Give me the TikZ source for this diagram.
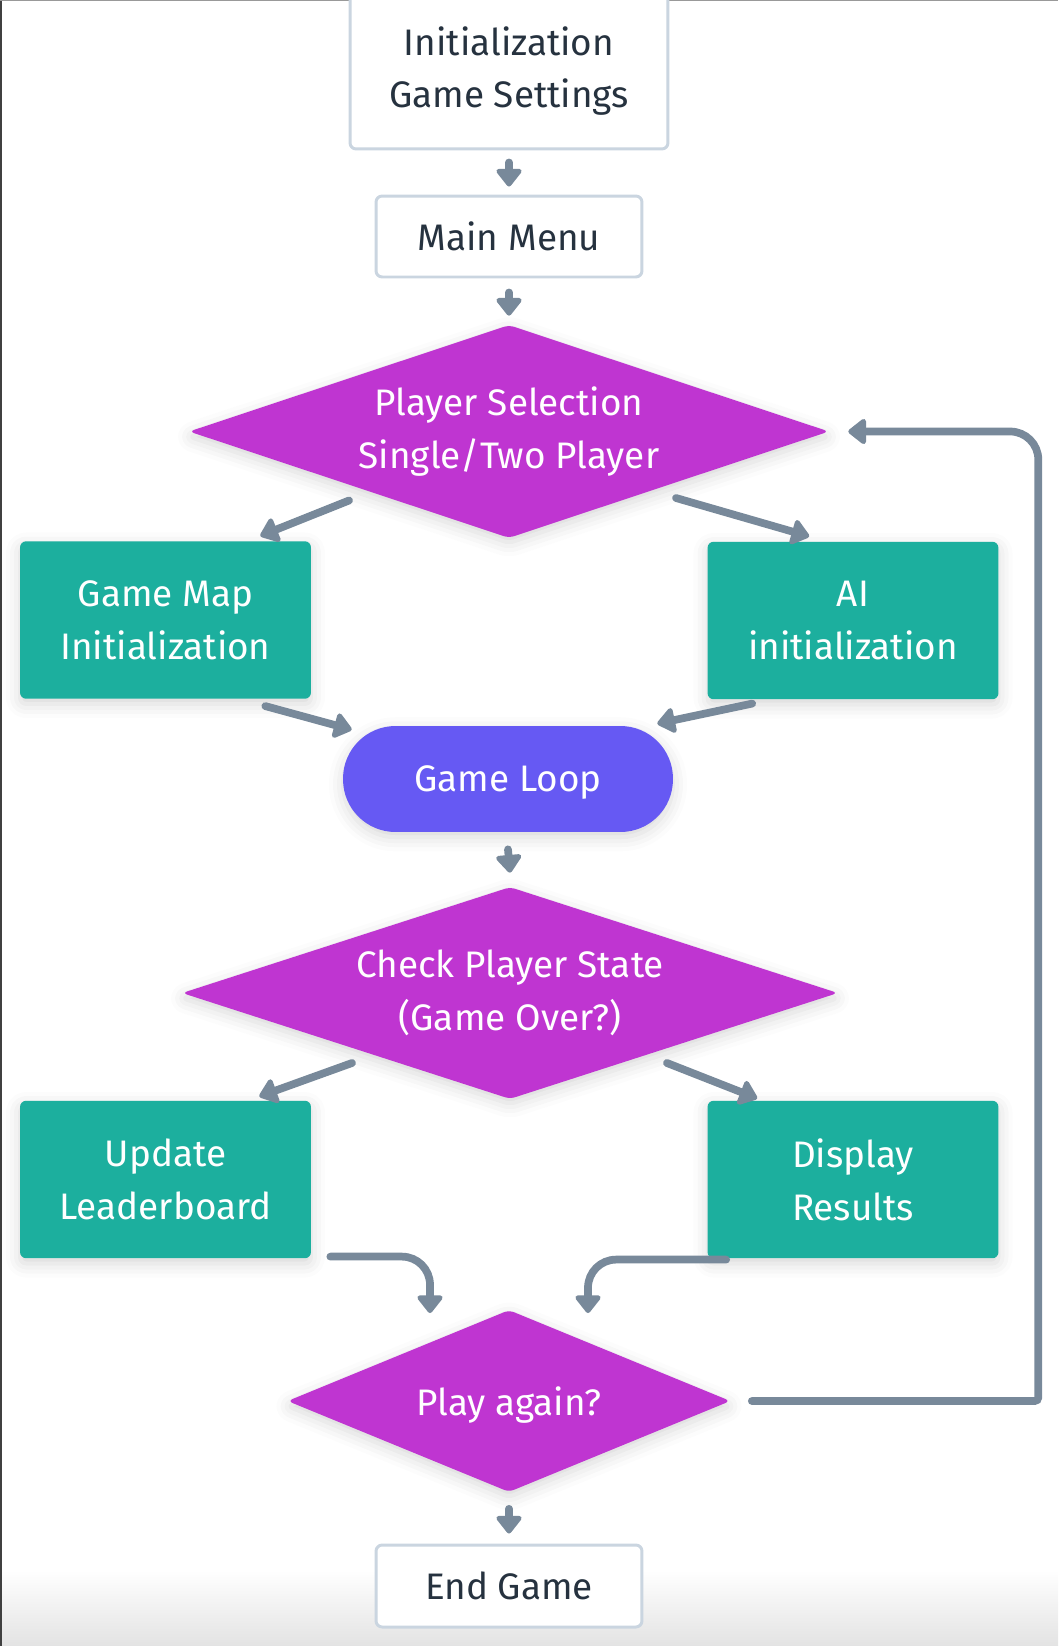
\documentclass[tikz,border=0pt]{standalone}
\usepackage{fontspec}
\setmainfont{Fira Sans}
\usepackage{tikz}
\usetikzlibrary{calc}
\usetikzlibrary{arrows.meta}
\usetikzlibrary{shapes.geometric, shadows.blur}
\definecolor{linegray}{HTML}{78899A}
\definecolor{boxborder}{HTML}{CAD5E0}
\definecolor{darktext}{HTML}{26323F}
\definecolor{decisionmag}{HTML}{BF35D1}
\definecolor{stepteal}{HTML}{1CAF9E}
\definecolor{loopviolet}{HTML}{6659F3}
\newcommand{\flowfont}{\fontsize{21pt}{30pt}\selectfont}
\tikzstyle{softshadow}=[blur shadow={shadow xshift=0pt, shadow yshift=-3pt, shadow blur radius=8pt, shadow opacity=16}]
\tikzstyle{plainbox}=[rectangle, rounded corners=3.5pt, draw=boxborder, line width=1.7pt, fill=white, text=darktext, align=center, font=\flowfont]
\tikzstyle{tealbox}=[rectangle, rounded corners=3.5pt, fill=stepteal, text=white, align=center, font=\flowfont, minimum width=5.82cm, minimum height=3.15cm, softshadow]
\tikzstyle{decision}=[diamond, aspect=3, inner sep=0pt, rounded corners=3pt, fill=decisionmag, text=white, align=center, font=\flowfont, softshadow]
\tikzstyle{loopbox}=[rectangle, rounded corners=1.05cm, fill=loopviolet, text=white, font=\flowfont, text depth=0pt, minimum width=6.6cm, minimum height=2.12cm, softshadow]
\tikzstyle{flowarrow}=[line width=4.4pt, draw=linegray, line cap=round, -{Triangle[length=11pt,width=16.5pt,round]}]

\begin{document}
\begin{tikzpicture}[x=0.02cm, y=-0.02cm]
        \useasboundingbox (0,0) rectangle (1058,1646);
        \shade[top color=white, bottom color=black!11] (0,1570) rectangle (1058,1646);
        \draw[black!75, line width=1.2pt] (0.6,0) -- (0.6,1646);
        \draw[black!40, line width=0.8pt] (0,0.4) -- (1058,0.4);

        \node[plainbox, minimum width=6.36cm, minimum height=3.12cm] (init) at (509,71) {Initialization\\Game Settings};
        \node[plainbox, minimum width=5.32cm, minimum height=1.62cm] (menu) at (509,236.5) {Main Menu};
        \node[decision, minimum width=12.8cm, minimum height=4.26cm] (d1) at (509,431.5) {Player Selection\\Single/Two Player};
        \node[tealbox] (gmap) at (165.5,620) {Game Map\\Initialization};
        \node[tealbox] (ai) at (853,620.5) {AI\\initialization};
        \node[loopbox] (loop) at (508,779) {Game Loop};
        \node[decision, minimum width=13.12cm, minimum height=4.24cm] (d2) at (510,993) {Check Player State\\(Game Over?)};
        \node[tealbox] (upd) at (165.5,1179.5) {Update\\Leaderboard};
        \node[tealbox] (disp) at (853,1179.5) {Display\\Results};
        \node[decision, text depth=0pt, minimum width=8.86cm, minimum height=3.64cm] (d3) at (509,1401) {Play again?};
        \node[plainbox, minimum width=5.32cm, minimum height=1.64cm] (end) at (509,1586) {End Game};

        \path
            ($(init.south)+(0,12)$) edge[flowarrow] ($(menu.north)+(0,-8)$)
            ($(menu.south)+(0,14)$) edge[flowarrow] ($(d1.north)+(0,-9)$)
            ($(d1.center)+(-160,69)$) edge[flowarrow] ($(gmap.north east)+(-51,-5)$)
            ($(d1.center)+(167,66.5)$) edge[flowarrow] ($(ai.north west)+(102,-5)$)
            ($(gmap.south east)+(-46,7)$) edge[flowarrow] ($(loop.north west)+(9,4)$)
            ($(ai.south west)+(45,4)$) edge[flowarrow] ($(loop.north east)+(-16,-2)$)
            ($(loop.south)+(0,17)$) edge[flowarrow] ($(d2.north)+(0,-14)$)
            ($(d2.center)+(-158,70)$) edge[flowarrow] ($(upd.north east)+(-52,-4)$)
            ($(d2.center)+(157,70)$) edge[flowarrow] ($(disp.north west)+(50,-2)$)
            ($(d3.south)+(0,16.5)$) edge[flowarrow] ($(end.north)+(0,-10)$);

        \draw[flowarrow, rounded corners=16pt] ($(upd.south east)+(19,-2)$) -| ($(d3.center)+(-79,-88)$);
        \draw[flowarrow, rounded corners=16pt] ($(disp.south west)+(19,1)$) -| ($(d3.center)+(79,-88)$);
        \draw[flowarrow, rounded corners=2pt] ($(d3.east)+(21,0)$) -| ($(d1.east)+(209,60)$)
            [rounded corners=16pt] |- ($(d1.east)+(19,0)$);
    \end{tikzpicture}
\end{document}
